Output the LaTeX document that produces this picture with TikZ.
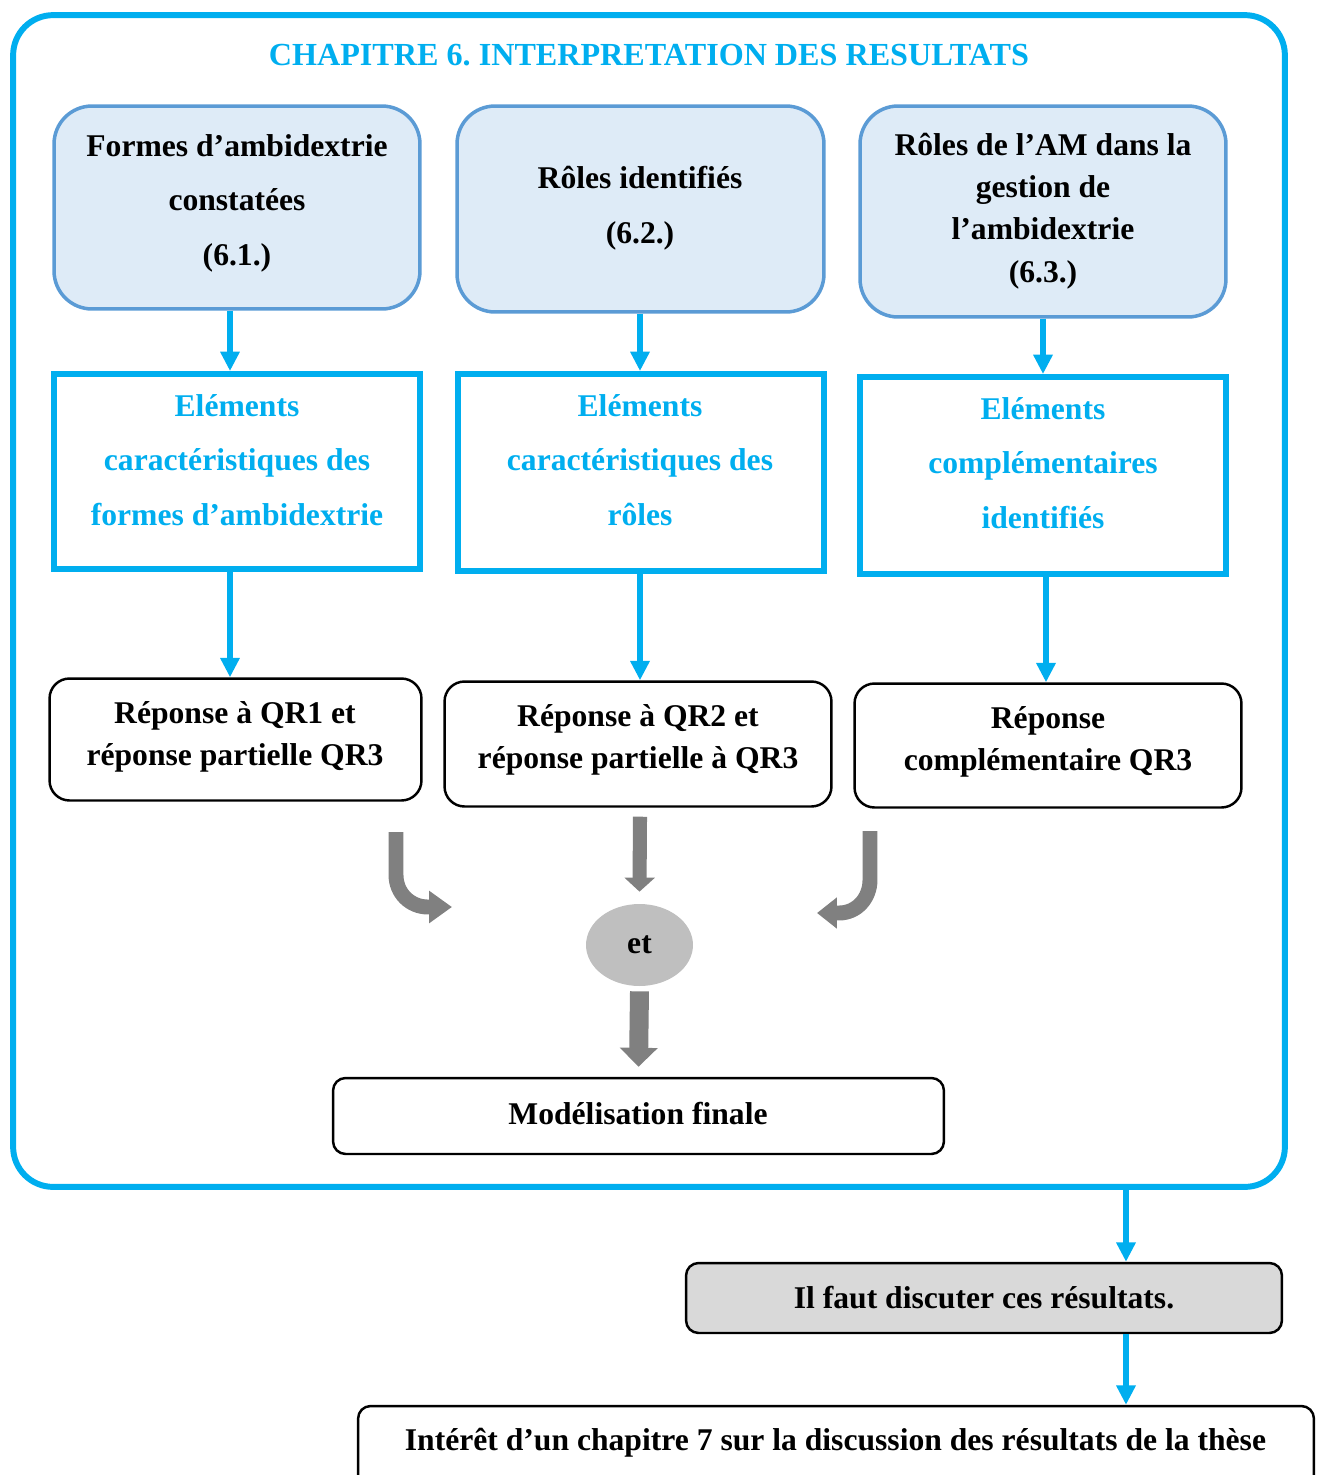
\documentclass[tikz,border=0pt]{standalone}
\usepackage{fontspec}
\setmainfont{Liberation Serif}
\usetikzlibrary{arrows.meta,calc,shapes.geometric}
\definecolor{cyanA}{RGB}{0,174,239}
\definecolor{topfill}{RGB}{222,235,247}
\definecolor{topdraw}{RGB}{91,155,213}
\definecolor{garrowc}{RGB}{128,128,128}
\definecolor{etfill}{RGB}{191,191,191}
\definecolor{gboxfill}{RGB}{217,217,217}
\frenchspacing
\begin{document}
\begin{tikzpicture}[x=0.02cm,y=-0.02cm,
  txtA/.style={font=\fontsize{18}{31}\selectfont\bfseries, align=center, inner sep=0pt},
  txtB/.style={font=\fontsize{18}{24}\selectfont\bfseries, align=center, inner sep=0pt},
  framebox/.style={draw=cyanA, line width=3.4pt, rounded corners=0.8cm, inner sep=0pt},
  topbox/.style={draw=topdraw, fill=topfill, line width=2pt, rounded corners=0.76cm, inner sep=0pt},
  elbox/.style={draw=cyanA, line width=3.4pt, inner sep=0pt},
  repbox/.style={draw=black, line width=1.4pt, rounded corners=0.4cm, inner sep=0pt},
  smallbox/.style={draw=black, line width=1.4pt, rounded corners=0.25cm, inner sep=0pt},
  carrow/.style={draw=cyanA, line width=3pt, -{Triangle[length=11pt,width=10.5pt]}},
  garrow/.style={draw=garrowc, fill=garrowc}
]
\useasboundingbox (0,0) rectangle (1322,1475);
\clip (0,0) rectangle (1322,1475);

% outer frame
\node[framebox, minimum width=25.44cm, minimum height=23.44cm] (frame) at (649,601) {};
\node[txtA, text=cyanA, font=\fontsize{18.3}{31}\selectfont\bfseries] (title) at (649,55) {CHAPITRE 6. INTERPRETATION DES RESULTATS};

% top boxes
\node[topbox, minimum width=7.32cm, minimum height=4.06cm] (t1) at (237,207.5) {};
\node[topbox, minimum width=7.34cm, minimum height=4.12cm] (t2) at (640.5,209) {};
\node[topbox, minimum width=7.32cm, minimum height=4.22cm] (t3) at (1043,211.5) {};
\node[txtA] (t1t) at (237,203) {Formes d’ambidextrie\\constatées\\(6.1.)};
\node[txtA] (t2t) at (640,208) {Rôles identifiés\\(6.2.)};
\node[txtB] (t3t) at (1043,211) {Rôles de l’AM dans la\\gestion de\\l’ambidextrie\\(6.3.)};

% element boxes
\node[elbox, minimum width=7.32cm, minimum height=3.9cm] (e1) at (237,471.5) {};
\node[elbox, minimum width=7.32cm, minimum height=3.94cm] (e2) at (641,472.5) {};
\node[elbox, minimum width=7.32cm, minimum height=3.94cm] (e3) at (1043,475.5) {};
\node[txtA, text=cyanA] (e1t) at (237,460) {Eléments\\caractéristiques des\\formes d’ambidextrie};
\node[txtA, text=cyanA] (e2t) at (640,460) {Eléments\\caractéristiques des\\rôles};
\node[txtA, text=cyanA] (e3t) at (1043,463) {Eléments\\complémentaires\\identifiés};

% response boxes
\node[repbox, minimum width=7.44cm, minimum height=2.44cm] (r1) at (235.5,739.5) {};
\node[repbox, minimum width=7.74cm, minimum height=2.5cm] (r2) at (638,744) {};
\node[repbox, minimum width=7.74cm, minimum height=2.48cm] (r3) at (1048,745.5) {};
\node[txtB] (r1t) at (235,737) {Réponse à QR1 et\\réponse partielle QR3};
\node[txtB] (r2t) at (638,740) {Réponse à QR2 et\\réponse partielle à QR3};
\node[txtB] (r3t) at (1048,742) {Réponse\\complémentaire QR3};

% cyan connectors
\coordinate (xa) at (230,0);
\coordinate (xb) at (640,0);
\coordinate (xc) at (1043,0);
\coordinate (xd) at (1046,0);
\coordinate (xe) at (1126,0);
\draw[carrow] (t1.south -| xa) -- (e1.north -| xa);
\draw[carrow] (t2.south -| xb) -- (e2.north -| xb);
\draw[carrow] (t3.south -| xc) -- (e3.north -| xc);
\draw[carrow] (e1.south -| xa) -- (r1.north -| xa);
\draw[carrow] (e2.south -| xb) -- (r2.north -| xb);
\draw[carrow] (e3.south -| xd) -- (r3.north -| xd);

% "et" ellipse
\node[ellipse, fill=etfill, minimum width=2.14cm, minimum height=1.64cm, inner sep=0pt,
      font=\fontsize{18}{22}\selectfont\bfseries] (et) at (639.5,945) {et};

% final modelling
\node[smallbox, minimum width=12.22cm, minimum height=1.52cm] (m) at (638.5,1116) {};
\node[txtB] (mt) at (638,1114) {Modélisation finale};

% gray arrows
\coordinate (la) at (396,832);
\coordinate (lb) at (452,907);
\coordinate (ra) at (870,831);
\coordinate (rb) at (817,913);
\draw[draw=garrowc, line width=8.5pt, -{Triangle[length=13pt,width=17.6pt]}]
  (la) -- (396,875) .. controls (396,893) and (410,907) .. (428,907) -- (lb);
\draw[draw=garrowc, line width=8.5pt, -{Triangle[length=11.3pt,width=17pt]}]
  (ra) -- (870,880) .. controls (870,898) and (857,913) .. (839,913) -- (rb);
\draw[draw=garrowc, line width=8pt, -{Triangle[length=8pt,width=17pt]}]
  ($(r2.south)+(2,9)$) -- ($(et.north)+(0,-12)$);
\draw[draw=garrowc, line width=10.8pt, -{Triangle[length=10.8pt,width=21pt]}]
  ($(et.south)+(0,5)$) -- ($(m.north)+(0,-10)$);

% discussion boxes
\node[smallbox, fill=gboxfill, minimum width=11.92cm, minimum height=1.4cm] (g) at (984,1298) {};
\node[txtB] (gt) at (984,1298) {Il faut discuter ces résultats.};
\node[smallbox, minimum width=19.12cm, minimum height=2cm] (b) at (836,1456) {};
\node[txtB] (bt) at (835.5,1443) {Intérêt d’un chapitre 7 sur la discussion des résultats de la thèse};

\draw[carrow] (frame.south -| xe) -- (g.north -| xe);
\draw[carrow] (g.south -| xe) -- (b.north -| xe);
\end{tikzpicture}
\end{document}
